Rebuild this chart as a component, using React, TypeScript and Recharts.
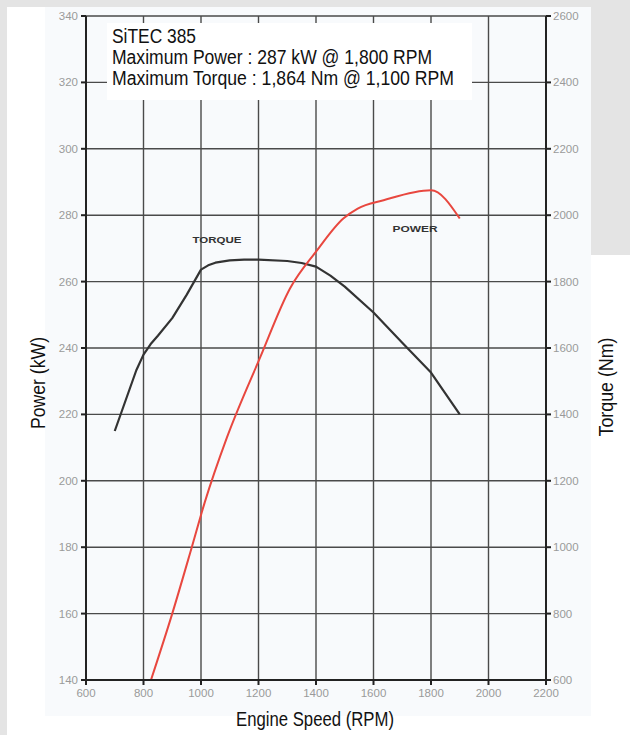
import React from "react";
import { LineChart, Line, XAxis, YAxis, CartesianGrid } from "recharts";

// engine speed ticks (rpm)
const rpmTicks = [600, 800, 1000, 1200, 1400, 1600, 1800, 2000, 2200];
const powerTicks = [140, 160, 180, 200, 220, 240, 260, 280, 300, 320, 340];
const torqueTicks = [600, 800, 1000, 1200, 1400, 1600, 1800, 2000, 2200, 2400, 2600];

// torque curve (Nm)
const torqueRpm = [700, 775, 800, 825, 850, 900, 950, 1000, 1025, 1050, 1100, 1150, 1200, 1300, 1350, 1400, 1450, 1500, 1600, 1700, 1800, 1900];
const torqueNm = [1350, 1533, 1580, 1612, 1637, 1690, 1760, 1836, 1849, 1857, 1864, 1866, 1866, 1862, 1856, 1845, 1818, 1785, 1707, 1616, 1526, 1400];

// power curve (kW)
const powerRpm = [826, 900, 968, 1013, 1090, 1205, 1310, 1400, 1495, 1545, 1635, 1800, 1900];
const powerKw = [140, 160, 180, 193.5, 213, 237, 258, 269, 279, 282, 284.5, 287.5, 279];

const torqueData = torqueRpm.map((rpm, i) => ({ rpm, nm: torqueNm[i] }));
const powerData = powerRpm.map((rpm, i) => ({ rpm, kw: powerKw[i] }));

const FONT = "'Liberation Sans', Arial, Helvetica, sans-serif";
const tickStyle = { fontSize: 11.5, fill: "#9a9a9a", fontFamily: FONT };

const App = () => {
  return (
    <div style={{ position: "absolute", left: 0, top: 0, width: 630, height: 735, background: "#e4e4e4", overflow: "hidden" }}>
      <div style={{ position: "absolute", left: 7, top: 7, width: 623, height: 728, background: "#ffffff" }} />
      <div style={{ position: "absolute", left: 591, top: 0, width: 39, height: 255, background: "#e4e4e4" }} />
      <div style={{ position: "absolute", left: 45, top: 7, width: 546, height: 709, background: "#f8fafc" }} />

      <div style={{ position: "absolute", left: 0, top: 0 }}>
        <LineChart
          width={630}
          height={735}
          margin={{ top: 16, right: 44, left: 46, bottom: 25 }}
        >
          <CartesianGrid yAxisId="p" stroke="#4a4a4a" strokeWidth={1.4} />
          <XAxis
            dataKey="rpm"
            type="number"
            domain={[600, 2200]}
            ticks={rpmTicks}
            allowDataOverflow
            height={30}
            tickSize={5}
            tickMargin={4}
            tick={tickStyle}
            stroke="#222"
            strokeWidth={2}
          />
          <YAxis
            yAxisId="p"
            orientation="left"
            type="number"
            domain={[140, 340]}
            ticks={powerTicks}
            allowDataOverflow
            width={40}
            tickSize={5}
            tickMargin={3}
            tick={tickStyle}
            stroke="#222"
            strokeWidth={2}
          />
          <YAxis
            yAxisId="t"
            orientation="right"
            type="number"
            domain={[600, 2600]}
            ticks={torqueTicks}
            allowDataOverflow
            width={40}
            tickSize={5}
            tickMargin={2}
            tick={tickStyle}
            stroke="#222"
            strokeWidth={2}
          />
          <Line
            yAxisId="t"
            data={torqueData}
            dataKey="nm"
            type="linear"
            stroke="#333333"
            strokeWidth={2.2}
            strokeLinejoin="round"
            dot={false}
            isAnimationActive={false}
          />
          <Line
            yAxisId="p"
            data={powerData}
            dataKey="kw"
            type="monotone"
            stroke="#e8473f"
            strokeWidth={2}
            dot={false}
            isAnimationActive={false}
          />
        </LineChart>
      </div>

      <svg width={630} height={735} style={{ position: "absolute", left: 0, top: 0, pointerEvents: "none" }}>
        <rect x={107} y={23} width={365} height={77} fill="#ffffff" />
        <g fontFamily={FONT} fontSize={20} fill="#111">
          <text x={112} y={43} textLength={84} lengthAdjust="spacingAndGlyphs">SiTEC 385</text>
          <text x={112} y={64} textLength={320} lengthAdjust="spacingAndGlyphs">Maximum Power : 287 kW @ 1,800 RPM</text>
          <text x={112} y={85} textLength={342} lengthAdjust="spacingAndGlyphs">Maximum Torque : 1,864 Nm @ 1,100 RPM</text>
          <text
            x={38}
            y={383}
            textAnchor="middle"
            dominantBaseline="central"
            transform="rotate(-90 38 383)"
            textLength={92}
            lengthAdjust="spacingAndGlyphs"
          >
            Power (kW)
          </text>
          <text
            x={606}
            y={387}
            textAnchor="middle"
            dominantBaseline="central"
            transform="rotate(-90 606 387)"
            textLength={99}
            lengthAdjust="spacingAndGlyphs"
          >
            Torque (Nm)
          </text>
          <text x={315} y={726} textAnchor="middle" textLength={158} lengthAdjust="spacingAndGlyphs">
            Engine Speed (RPM)
          </text>
        </g>
        <g fontFamily={FONT} fontSize={9} fontWeight="bold" fill="#333">
          <text x={217} y={243} textAnchor="middle" textLength={49} lengthAdjust="spacingAndGlyphs">TORQUE</text>
          <text x={415} y={232} textAnchor="middle" textLength={45} lengthAdjust="spacingAndGlyphs">POWER</text>
        </g>
      </svg>
    </div>
  );
};

export default App;
